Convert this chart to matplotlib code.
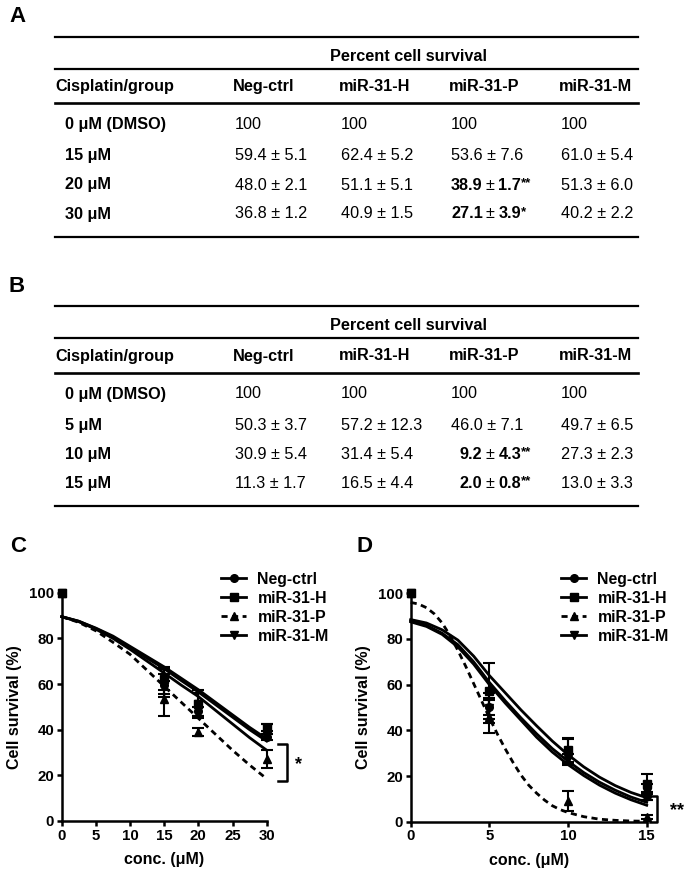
import matplotlib.pyplot as plt
from matplotlib.lines import Line2D

# ============================================================
# Global style
# ============================================================
plt.rcParams.update({
    "font.family": "sans-serif",
    "font.sans-serif": ["Liberation Sans", "DejaVu Sans"],
    "font.weight": "bold",
    "axes.linewidth": 1.8,
    "xtick.major.width": 1.8,
    "ytick.major.width": 1.8,
    "xtick.major.size": 3.5,
    "ytick.major.size": 3.5,
    "xtick.direction": "out",
    "ytick.direction": "out",
})

# ============================================================
# Data (tables A and B, mean +- SD)
# ============================================================
groups = ["Neg-ctrl", "miR-31-H", "miR-31-P", "miR-31-M"]

doses_a = [0, 15, 20, 30]
dose_labels_a = ["0 \u03bcM (DMSO)", "15 \u03bcM", "20 \u03bcM", "30 \u03bcM"]
a_neg = [100, 59.4, 48.0, 36.8]
a_neg_sd = [0, 5.1, 2.1, 1.2]
a_h = [100, 62.4, 51.1, 40.9]
a_h_sd = [0, 5.2, 5.1, 1.5]
a_p = [100, 53.6, 38.9, 27.1]
a_p_sd = [0, 7.6, 1.7, 3.9]
a_p_sig = ["", "", "**", "*"]
a_m = [100, 61.0, 51.3, 40.2]
a_m_sd = [0, 5.4, 6.0, 2.2]

doses_b = [0, 5, 10, 15]
dose_labels_b = ["0 \u03bcM (DMSO)", "5 \u03bcM", "10 \u03bcM", "15 \u03bcM"]
b_neg = [100, 50.3, 30.9, 11.3]
b_neg_sd = [0, 3.7, 5.4, 1.7]
b_h = [100, 57.2, 31.4, 16.5]
b_h_sd = [0, 12.3, 5.4, 4.4]
b_p = [100, 46.0, 9.2, 2.0]
b_p_sd = [0, 7.1, 4.3, 0.8]
b_p_sig = ["", "", "**", "**"]
b_m = [100, 49.7, 27.3, 13.0]
b_m_sd = [0, 6.5, 2.3, 3.3]

# fitted curves
c_grid = [0, 2.5, 5, 7.5, 10, 12.5, 15, 17.5, 20, 22.5, 25, 27.5, 30]
c_fit_neg = [89.5, 87.5, 84.3, 80.5, 76.0, 71.3, 66.7, 61.5, 56.5, 51.0, 45.5, 40.0, 35.0]
c_fit_h = [89.5, 87.5, 84.5, 81.0, 76.5, 72.0, 67.5, 62.5, 57.5, 52.0, 46.5, 41.0, 36.0]
c_fit_p = [89.5, 87.0, 83.3, 78.3, 73.0, 66.0, 59.0, 52.0, 45.0, 38.0, 31.0, 24.5, 18.5]
c_fit_m = [89.5, 87.3, 84.0, 80.0, 75.2, 70.0, 64.8, 59.5, 54.5, 48.5, 42.5, 36.5, 31.0]

d_grid = [0, 1, 2, 3, 4, 5, 6, 7, 8, 9, 10, 11, 12, 13, 14, 15]
d_fit_neg = [88.0, 86.0, 82.5, 77.5, 70.0, 61.0, 53.0, 45.5, 38.5, 32.0, 26.5, 21.5, 17.3, 13.8, 10.8, 8.5]
d_fit_h = [88.5, 87.0, 84.0, 79.5, 72.5, 64.0, 56.5, 49.0, 42.0, 35.3, 29.3, 24.0, 19.5, 15.8, 12.8, 10.5]
d_fit_m = [87.5, 85.5, 82.0, 76.5, 69.0, 60.0, 52.0, 44.5, 37.0, 30.5, 25.0, 20.2, 16.0, 12.5, 9.6, 7.2]
d_grid_p = [0, 0.5, 1, 1.5, 2, 2.5, 3, 3.5, 4, 4.5, 5, 5.5, 6, 6.5, 7, 7.5, 8, 8.5,
            9, 9.5, 10, 11, 12, 13, 14, 15]
d_fit_p = [96.0, 95.3, 93.7, 91.0, 87.0, 81.5, 75.0, 68.0, 60.5, 53.0, 45.5, 38.5, 32.0,
           26.0, 20.5, 16.0, 12.5, 9.5, 7.0, 5.3, 4.0, 2.2, 1.1, 0.6, 0.3, 0.2]

# ============================================================
# Figure (pixel helpers)
# ============================================================
W, H = 689, 875
fig = plt.figure(figsize=(W / 100, H / 100), dpi=100)
renderer = fig.canvas.get_renderer()


def fx(px):
    return px / W


def fy(py):
    return 1 - py / H


def hline(x0, x1, y, lw=1.6):
    fig.add_artist(Line2D([fx(x0), fx(x1)], [fy(y), fy(y)], color="black", lw=lw))


TS = 11.7  # table font size


def put(x, y, s, weight="normal", size=TS, dy=0.0):
    t = fig.text(fx(x), fy(y + dy), s, fontsize=size, fontweight=weight,
                 ha="left", va="center")
    bb = t.get_window_extent(renderer=renderer)
    return bb.x1  # pixel x of right edge


def text_w(s, weight="normal"):
    t = fig.text(0, 0, s, fontsize=TS, fontweight=weight)
    w = t.get_window_extent(renderer=renderer).width
    t.remove()
    return w


space_w = text_w("a a") - text_w("aa")
digit_w = text_w("0")


def cell(x, y, mean, sd, sig=""):
    if sd == 0:
        put(x, y, "%g" % mean)
        return
    ms = "%.1f" % mean
    if len(ms.split(".")[0]) == 1:
        x += digit_w
    if not sig:
        put(x, y, "%s \u00b1 %.1f" % (ms, sd))
        return
    x = put(x, y, ms, "bold") + 0.55 * space_w
    x = put(x, y, "\u00b1") + 1.0 * space_w
    x = put(x, y, "%.1f" % sd, "bold")
    put(x - 0.5, y, sig, "bold", size=9.5, dy=-2)


col_x = [233, 339, 449, 559]


def draw_table(y0, letter, dose_labels, series, sds, p_sig):
    fig.text(fx(17), fy(y0 - 20), letter, fontsize=16, fontweight="bold",
             ha="center", va="center")
    hline(55, 638, y0)
    fig.text(fx(408), fy(y0 + 20), "Percent cell survival", fontsize=TS,
             fontweight="bold", ha="center", va="center")
    hline(55, 638, y0 + 32.5)
    put(55, y0 + 50, "Cisplatin/group", "bold")
    for cx, g in zip(col_x, groups):
        put(cx, y0 + 50, g, "bold")
    hline(55, 638, y0 + 66.5, lw=1.9)
    row_y = [y0 + 88, y0 + 119, y0 + 148.5, y0 + 177.5]
    for i, ry in enumerate(row_y):
        put(65, ry, dose_labels[i], "bold")
        for k, cx in enumerate(col_x):
            sig = p_sig[i] if k == 2 else ""
            cell(cx + 2, ry, series[k][i], sds[k][i], sig)
    hline(55, 638, y0 + 200)


draw_table(36.5, "A", dose_labels_a, [a_neg, a_h, a_p, a_m],
           [a_neg_sd, a_h_sd, a_p_sd, a_m_sd], a_p_sig)
draw_table(306, "B", dose_labels_b, [b_neg, b_h, b_p, b_m],
           [b_neg_sd, b_h_sd, b_p_sd, b_m_sd], b_p_sig)

# ============================================================
# Dose-response panels
# ============================================================
markers = ["o", "s", "^", "v"]
styles = ["-", "-", (0, (2.2, 1.6)), "-"]


def panel(rect, letter, letter_xy, doses, means, sds, fits, fit_grids,
          xmax, xticks, legend_xy, bracket, star, star_xy):
    ax = fig.add_axes(rect)
    for k in range(4):
        ax.plot(fit_grids[k], fits[k], color="black", lw=2.0, ls=styles[k],
                zorder=3, clip_on=False)
    for k in [0, 2, 3, 1]:
        ax.errorbar(doses[1:], means[k][1:], yerr=sds[k][1:], fmt="none",
                    ecolor="black", elinewidth=1.5, capsize=4, capthick=1.5,
                    zorder=4, clip_on=False)
        ax.plot(doses, means[k], ls="none", marker=markers[k], ms=5.5,
                color="black", zorder=5, clip_on=False)

    ax.set_xlim(0, xmax)
    ax.set_ylim(0, 100)
    ax.set_xticks(xticks)
    ax.set_yticks([0, 20, 40, 60, 80, 100])
    ax.spines["top"].set_visible(False)
    ax.spines["right"].set_visible(False)
    ax.tick_params(labelsize=10.8, pad=2)
    for lab in ax.get_xticklabels() + ax.get_yticklabels():
        lab.set_fontweight("bold")
    ax.set_xlabel("conc. (\u03bcM)", fontsize=11.5, fontweight="bold", labelpad=7)
    ax.set_ylabel("Cell survival (%)", fontsize=11.5, fontweight="bold", labelpad=5)

    handles = [Line2D([], [], color="black", lw=2.0, ls=styles[k],
                      marker=markers[k], ms=5.5) for k in range(4)]
    ax.legend(handles, groups, loc="upper left",
              bbox_to_anchor=(fx(legend_xy[0]), fy(legend_xy[1])),
              bbox_transform=fig.transFigure, frameon=False, borderpad=0,
              borderaxespad=0, handlelength=1.6, handletextpad=0.7,
              labelspacing=0.25, prop={"size": 11.4, "weight": "bold"})

    # significance bracket
    bx0, bx1, btop, bbot = bracket
    ax.plot([bx0, bx1, bx1, bx0], [btop, btop, bbot, bbot], color="black",
            lw=1.8, clip_on=False, solid_joinstyle="round")
    ax.text(star_xy[0], star_xy[1], star, fontsize=13, fontweight="bold",
            ha="center", va="center")

    fig.text(fx(letter_xy[0]), fy(letter_xy[1]), letter, fontsize=16,
             fontweight="bold", ha="center", va="center")
    return ax


panel([fx(61.7), fy(821), 205 / W, 228.3 / H], "C", (18, 546),
      doses_a, [a_neg, a_h, a_p, a_m], [a_neg_sd, a_h_sd, a_p_sd, a_m_sd],
      [c_fit_neg, c_fit_h, c_fit_p, c_fit_m], [c_grid] * 4,
      30, [0, 5, 10, 15, 20, 25, 30], (221, 572),
      (31.7, 32.9, 33.7, 17.7), "*", (34.6, 24.5))

panel([fx(410.7), fy(821.7), 236 / W, 228.4 / H], "D", (365, 546),
      doses_b, [b_neg, b_h, b_p, b_m], [b_neg_sd, b_h_sd, b_p_sd, b_m_sd],
      [d_fit_neg, d_fit_h, d_fit_p, d_fit_m],
      [d_grid, d_grid, d_grid_p, d_grid],
      15, [0, 5, 10, 15], (561, 572),
      (15.2, 15.64, 11.3, 0), "**", (16.9, 5.0))

fig.savefig("out.png", dpi=100)
